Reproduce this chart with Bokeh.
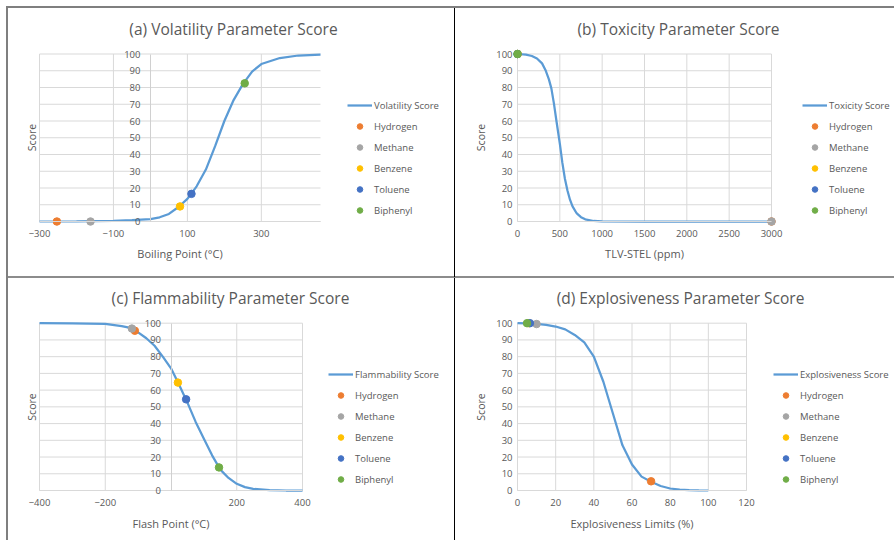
from bokeh.plotting import figure
from bokeh.layouts import column, row
from bokeh.models import (Range1d, FixedTicker, Label, Legend, LegendItem, LinearAxis)
from bokeh.embed import file_html
from bokeh.resources import INLINE

# ---------------- data ----------------
names = ["Hydrogen", "Methane", "Benzene", "Toluene", "Biphenyl"]
colors = ["#ED7D31", "#A5A5A5", "#FFC000", "#4472C4", "#70AD47"]
score_ticks = [0, 10, 20, 30, 40, 50, 60, 70, 80, 90, 100]

# (a) volatility
vol_curve_x = [-300, -200, -100, -50, 0, 25, 50, 75, 100, 125, 150, 175, 200, 225, 250, 275, 300, 350, 400, 460]
vol_curve_y = [0, 0.1, 0.4, 0.8, 1.4, 2.5, 4.5, 8.5, 13.5, 21, 31, 45, 60, 72.5, 82, 89.5, 94, 97.6, 99.1, 99.7]
boiling_point = [-253, -162, 80, 111, 255]
vol_score = [0, 0, 9, 16.5, 82.5]
vol_xlim = [-300, 460]
vol_xticks = [-300, -100, 100, 300]

# (b) toxicity
tox_curve_x = [0, 100, 170, 230, 290, 330, 370, 400, 430, 460, 500, 530, 560, 590, 620, 650, 700, 750, 800, 900, 1000, 1500, 2000, 2500, 3000]
tox_curve_y = [100, 99.6, 98.8, 97.3, 94.4, 90.5, 85, 79.5, 70.5, 60, 46.5, 35, 25.5, 18.5, 13, 9, 4.8, 2.6, 1.3, 0.3, 0.05, 0, 0, 0, 0]
tlv_stel = [3000, 3000, 2.5, 0, 0]
tox_score = [0, 0, 100, 100, 100]
tox_xlim = [0, 3000]
tox_xticks = [0, 500, 1000, 1500, 2000, 2500, 3000]

# (c) flammability
flam_curve_x = [-400, -300, -200, -150, -120, -100, -75, -50, -25, 0, 25, 50, 75, 100, 125, 150, 175, 200, 225, 250, 300, 350, 400]
flam_curve_y = [100, 99.9, 99.6, 98.3, 97, 94.5, 91, 86.5, 80, 73, 63, 52.5, 41, 31, 21, 12.5, 7.5, 4, 2, 1, 0.2, 0, 0]
flash_point = [-110, -119, 21, 46, 146]
flam_score = [95.5, 96.8, 64.5, 54.5, 13.8]
flam_xlim = [-400, 400]
flam_xticks = [-400, -200, 200, 400]

# (d) explosiveness
exp_curve_x = [0, 5, 10, 15, 20, 25, 30, 35, 40, 45, 50, 55, 60, 65, 70, 75, 80, 85, 90, 95, 100]
exp_curve_y = [100, 99.9, 99.6, 99, 98, 96.3, 93, 88.5, 80, 65, 46, 27, 15.5, 8.3, 5.2, 2.7, 1.2, 0.5, 0.2, 0.05, 0]
explosive_limits = [70, 10, 6, 6.5, 5]
exp_score = [5.5, 99.5, 100, 100, 100]
exp_xlim = [0, 120]
exp_xticks = [0, 20, 40, 60, 80, 100, 120]

# ---------------- style ----------------
FONT = "Open Sans"
TXT = "#595959"
GRID = "#d9d9d9"
AXIS = "#d0d0d0"
LINE = "#5B9BD5"
BG = "#7f7f7f"
SEP = "#8c8c8c"


def bar(color, pos, size):
    return f"linear-gradient({color},{color}) {pos} / {size} no-repeat"


def panel(W, H, box, xlim, xticks, yaxis_x, ystand, cx, cy, clabel, px, py,
          title, title_at, xlabel, xlabel_at, score_at, leg_at, css):
    gx0, gx1, gy0, gy1 = box            # plot-area box in canvas pixels (top-left origin)
    xmin, xmax = xlim
    ppx = (gx1 - gx0) / (xmax - xmin)
    ppy = (gy1 - gy0) / 100.0
    xr = Range1d(xmin - gx0 / ppx, xmax + (W - gx1) / ppx)
    yr = Range1d(0 - (H - gy1) / ppy, 100 + gy0 / ppy)
    p = figure(width=W, height=H, x_range=xr, y_range=yr, output_backend="svg",
               toolbar_location=None, tools="", x_axis_location=None,
               y_axis_location=None, min_border=0, min_border_left=0,
               min_border_right=0, min_border_top=0, min_border_bottom=0)
    for g in p.grid:
        g.visible = False
    p.outline_line_color = None
    p.border_fill_alpha = 0
    p.background_fill_alpha = 0
    p.styles = {"background": css}

    # gridlines restricted to the plot area
    p.segment(x0=[xmin] * len(score_ticks), x1=[xmax] * len(score_ticks),
              y0=score_ticks, y1=score_ticks, line_color=GRID, line_width=1)
    p.segment(x0=xticks, x1=xticks, y0=[0] * len(xticks), y1=[100] * len(xticks),
              line_color=GRID, line_width=1)

    xa = LinearAxis(fixed_location=0, ticker=FixedTicker(ticks=xticks), bounds=(xmin, xmax))
    xa.major_tick_line_color = None
    xa.minor_tick_line_color = None
    xa.major_tick_out = 0
    xa.major_tick_in = 0
    xa.axis_line_color = GRID
    xa.major_label_text_font = FONT
    xa.major_label_text_font_size = "9.5px"
    xa.major_label_text_color = TXT
    xa.major_label_standoff = 8
    p.add_layout(xa, "below")

    ya = LinearAxis(fixed_location=yaxis_x, ticker=FixedTicker(ticks=score_ticks), bounds=(0, 100))
    ya.major_tick_line_color = None
    ya.minor_tick_line_color = None
    ya.major_tick_out = 0
    ya.major_tick_in = 0
    ya.axis_line_color = AXIS if yaxis_x != xmin else None
    ya.major_label_text_font = FONT
    ya.major_label_text_font_size = "9.5px"
    ya.major_label_text_color = TXT
    ya.major_label_standoff = ystand
    p.add_layout(ya, "left")

    r_line = p.line(cx, cy, line_color=LINE, line_width=2.25)
    items = [LegendItem(label=clabel, renderers=[r_line])]
    for i, n in enumerate(names):
        r = p.scatter([px[i]], [py[i]], size=7.5, fill_color=colors[i], line_color=colors[i])
        items.append(LegendItem(label=n, renderers=[r]))

    leg = Legend(items=items, location=(leg_at[0], H - leg_at[1]), glyph_width=25,
                 glyph_height=14, label_height=14, spacing=7, padding=0, margin=0,
                 label_standoff=2, border_line_color=None, background_fill_alpha=0,
                 label_text_font=FONT, label_text_font_size="9.5px", label_text_color=TXT)
    p.add_layout(leg)

    def lab(text, at, size, angle=0):
        p.add_layout(Label(x=at[0], y=H - at[1], x_units="screen", y_units="screen",
                           text=text, angle=angle, angle_units="deg", text_align="center",
                           text_baseline="middle", text_font=FONT, text_font_size=size,
                           text_color=TXT))

    lab(title, title_at, "15.5px")
    lab(xlabel, xlabel_at, "11px")
    lab("Score", score_at, "10.5px", 90)
    return p


css_a = ", ".join([bar(BG, "6px 6px", "2px calc(100% - 6px)"),
                   bar(BG, "6px 6px", "calc(100% - 6px) 2px"),
                   bar("#000", "right 6px", "1px calc(100% - 6px)"),
                   bar(SEP, "6px bottom", "calc(100% - 6px) 1px")])
css_b = ", ".join([bar(BG, "left 6px", "100% 2px"), bar(SEP, "left bottom", "100% 1px")])
css_c = ", ".join([bar(BG, "6px top", "2px 100%"), bar(SEP, "6px top", "calc(100% - 6px) 1px"),
                   bar("#000", "right top", "1px 100%")])
css_d = ", ".join([bar(SEP, "left top", "100% 1px")])

# leg_at = (left, bottom) of legend box in canvas pixels (top-left origin)
pa = panel(455, 277, (39, 320, 53.5, 221), vol_xlim, vol_xticks, 0, 10,
           vol_curve_x, vol_curve_y, "Volatility Score", boiling_point, vol_score,
           "(a) Volatility Parameter Score", (233, 28.5), "Boiling Point (°C)", (179.5, 253),
           (31, 137), (347, 217), css_a)
pb = panel(439, 277, (62, 316, 53.5, 221), tox_xlim, tox_xticks, 0, 5,
           tox_curve_x, tox_curve_y, "Toxicity Score", tlv_stel, tox_score,
           "(b) Toxicity Parameter Score", (223, 28.5), "TLV-STEL (ppm)", (189, 253),
           (25, 137), (347, 217), css_b)
pc = panel(455, 263, (39, 302, 45.7, 213), flam_xlim, flam_xticks, 0, 10,
           flam_curve_x, flam_curve_y, "Flammability Score", flash_point, flam_score,
           "(c) Flammability Parameter Score", (230, 20.5), "Flash Point (°C)", (170.5, 246),
           (31, 129.5), (328, 209), css_c)
pd_ = panel(439, 263, (62, 291, 45.7, 213), exp_xlim, exp_xticks, 0, 5,
            exp_curve_x, exp_curve_y, "Explosiveness Score", explosive_limits, exp_score,
            "(d) Explosiveness Parameter Score", (225, 20.5), "Explosiveness Limits (%)", (176.5, 246),
            (25, 129.5), (318, 209), css_d)

layout = column(row(pa, pb), row(pc, pd_))
open("out.html", "w").write(file_html(layout, INLINE))
